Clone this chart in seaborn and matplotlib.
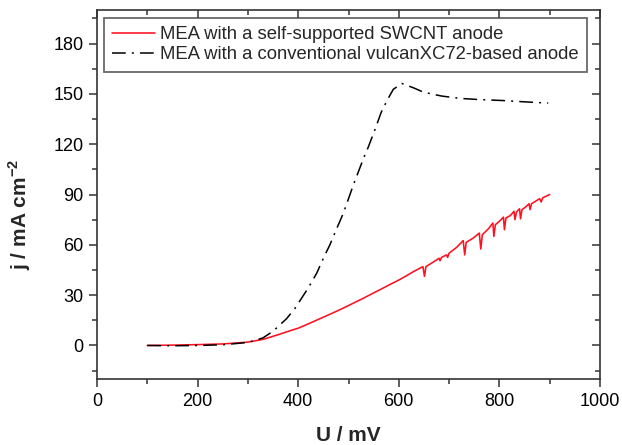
import numpy as np
import pandas as pd
import seaborn as sns
import matplotlib.pyplot as plt
from matplotlib.ticker import MultipleLocator

# SWCNT anode (red), dips included
swcnt_u = [100, 150, 200, 250, 300, 330, 364, 380, 400, 415, 430, 446, 463, 480, 496,
           513, 530, 546, 563, 581, 600, 615, 629, 648, 651, 654, 670, 680, 682, 685,
           695, 697, 700, 715, 728, 731, 734, 748, 760, 763, 766, 778, 787, 789, 792,
           800, 808, 810, 813, 822, 829, 831, 834, 840, 842, 845, 852, 859, 861, 864,
           872, 880, 883, 886, 893, 900]
swcnt_j = [0.0, 0.2, 0.5, 0.9, 2.0, 3.6, 6.8, 8.4, 10.3, 12.2, 14.2, 16.3, 18.6, 20.9, 23.2,
           25.7, 28.2, 30.7, 33.3, 36.1, 39.0, 41.5, 44.0, 47.0, 41.2, 47.0, 50.0, 52.0, 50.5, 52.5,
           54.0, 52.5, 55.0, 58.5, 62.5, 54.0, 61.5, 64.0, 67.0, 57.5, 66.0, 69.5, 73.0, 65.0, 72.0,
           74.0, 76.5, 69.0, 76.0, 77.5, 80.0, 75.0, 79.5, 81.5, 75.5, 81.0, 82.5, 84.5, 81.0, 84.5,
           86.0, 87.5, 85.5, 88.0, 89.0, 90.0]

# conventional vulcanXC72 anode (black dash-dot)
vulcan_u = [100, 150, 200, 250, 300, 330, 350, 377, 394, 420, 437, 450, 463, 477,
            490, 510, 533, 539, 553, 565, 576, 589, 606, 630, 649, 685, 722, 754,
            808, 841, 884, 897]
vulcan_j = [0.0, -0.2, 0.0, 0.4, 1.8, 4.5, 8.5, 16.0, 22.3, 34.3, 43.2, 52.0, 60.0, 70.0,
            79.0, 96.0, 114.0, 118.0, 129.0, 139.0, 145.7, 152.7, 156.2, 153.5, 151.0, 148.7, 147.3, 146.7,
            146.0, 145.4, 144.7, 144.5]

labels = ["MEA with a self-supported SWCNT anode",
          "MEA with a conventional vulcanXC72-based anode"]

sns.set_style("ticks")
plt.rcParams["font.family"] = ["Liberation Sans", "DejaVu Sans"]
plt.rcParams["mathtext.fontset"] = "custom"
plt.rcParams["mathtext.rm"] = "Liberation Sans"
plt.rcParams["mathtext.bf"] = "Liberation Sans:bold"

fig = plt.figure(figsize=(6.22, 4.45), dpi=100)
ax = fig.add_axes([97 / 622, 1 - 379 / 445, 503 / 622, 369 / 445])

sns.lineplot(x=swcnt_u, y=swcnt_j, color="#ff1020", linewidth=1.15, sort=False,
             label=labels[0], ax=ax)
sns.lineplot(x=vulcan_u, y=vulcan_j, color="black", linewidth=1.1, sort=False,
             label=labels[1], ax=ax)
ax.lines[1].set_dashes((9, 4, 1.3, 4))

ax.set_xlim(0, 1000)
ax.set_ylim(-20, 200)
ax.xaxis.set_major_locator(MultipleLocator(200))
ax.xaxis.set_minor_locator(MultipleLocator(100))
ax.yaxis.set_major_locator(MultipleLocator(30))
ax.yaxis.set_minor_locator(MultipleLocator(15))
ax.set_yticks([0, 30, 60, 90, 120, 150, 180])

for sp in ax.spines.values():
    sp.set_visible(True)
    sp.set_color("#333333")
    sp.set_linewidth(1.2)

ax.tick_params(which="both", direction="out", color="#333333", width=1.1,
               labelsize=13, labelcolor="black")
ax.tick_params(which="major", length=6)
ax.tick_params(which="minor", length=3.5)
ax.tick_params(axis="x", pad=4)

# mirrored ticks pointing in on top and right
top = ax.secondary_xaxis("top")
top.xaxis.set_major_locator(MultipleLocator(200))
top.xaxis.set_minor_locator(MultipleLocator(100))
top.tick_params(which="both", direction="in", color="#333333", width=1.1, labeltop=False)
top.tick_params(which="major", length=6)
top.tick_params(which="minor", length=3.5)
top.spines["top"].set_visible(False)
right = ax.secondary_yaxis("right")
right.yaxis.set_major_locator(MultipleLocator(30))
right.yaxis.set_minor_locator(MultipleLocator(15))
right.tick_params(which="both", direction="in", color="#333333", width=1.1, labelright=False)
right.tick_params(which="major", length=6)
right.tick_params(which="minor", length=3.5)
right.spines["right"].set_visible(False)

ax.set_xlabel("U / mV", fontsize=15, fontweight="bold")
ax.set_ylabel(r"j / mA cm$^{\mathbf{-2}}$", fontsize=15, fontweight="bold")
ax.xaxis.set_label_coords(0.5, -0.127)
ax.yaxis.set_label_coords(-0.128, 0.447)

leg = ax.legend(loc="upper left", bbox_to_anchor=(0.014, 0.978), fontsize=13.3,
                frameon=True, fancybox=False, handlelength=2.3, handletextpad=0.3,
                borderpad=0.45, labelspacing=0.15, borderaxespad=0)
leg.get_frame().set_edgecolor("#444444")
leg.get_frame().set_linewidth(1.3)

fig.savefig("out.png", dpi=100)
